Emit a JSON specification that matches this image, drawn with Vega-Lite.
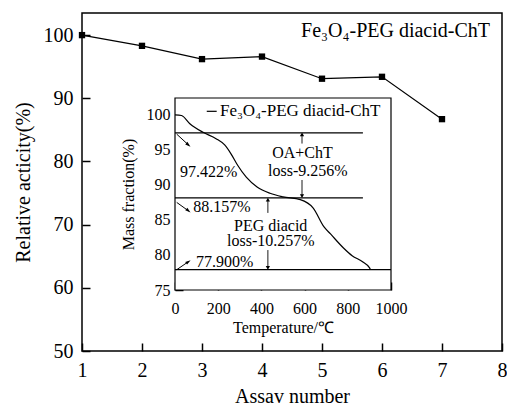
{
  "$schema": "https://vega.github.io/schema/vega-lite/v6.json",
  "width": 420,
  "height": 338,
  "autosize": "none",
  "padding": {"left": 82, "top": 13, "right": 5, "bottom": 55},
  "background": "white",
  "config": {
    "view": {"stroke": "black", "strokeWidth": 1.5},
    "font": "Liberation Serif",
    "axis": {
      "grid": false,
      "domain": false,
      "tickColor": "black",
      "tickWidth": 1.5,
      "labelColor": "black",
      "titleColor": "black",
      "labelFont": "Liberation Serif",
      "titleFont": "Liberation Serif",
      "titleFontWeight": "normal"
    },
    "text": {"font": "Liberation Serif", "color": "black"}
  },
  "datasets": {
    "activity": [
      {"assay": 1, "activity": 100},
      {"assay": 2, "activity": 98.3},
      {"assay": 3, "activity": 96.2},
      {"assay": 4, "activity": 96.6},
      {"assay": 5, "activity": 93.1},
      {"assay": 6, "activity": 93.4},
      {"assay": 7, "activity": 86.7}
    ],
    "mainLabel": [
      {"assay": 7.8, "activity": 100.6, "label": "Fe₃O₄-PEG diacid-ChT"}
    ],
    "frame": [
      {"temp": 0, "temp2": 1000, "mass": 75, "mass2": 102.4}
    ],
    "tga": [
      {"temp": 0, "mass": 100},
      {"temp": 30, "mass": 99.9},
      {"temp": 70, "mass": 98.7},
      {"temp": 130, "mass": 97.5},
      {"temp": 190, "mass": 96.6},
      {"temp": 230, "mass": 95.7},
      {"temp": 260, "mass": 94.4},
      {"temp": 290, "mass": 92.8},
      {"temp": 330, "mass": 91.1},
      {"temp": 380, "mass": 89.7},
      {"temp": 440, "mass": 88.8},
      {"temp": 500, "mass": 88.3},
      {"temp": 580, "mass": 87.9},
      {"temp": 640, "mass": 86.7},
      {"temp": 690, "mass": 84.0},
      {"temp": 720, "mass": 83.0},
      {"temp": 780, "mass": 81.0},
      {"temp": 820, "mass": 79.9},
      {"temp": 870, "mass": 79.0},
      {"temp": 900, "mass": 78.2},
      {"temp": 905, "mass": 77.9}
    ],
    "levels": [
      {"temp": 0, "temp2": 870, "mass": 97.422},
      {"temp": 0, "temp2": 870, "mass": 88.157},
      {"temp": 0, "temp2": 1000, "mass": 77.9}
    ],
    "vArrows": [
      {"temp": 588, "mass": 95.9, "mass2": 97.2, "dir": "up"},
      {"temp": 588, "mass": 90.7, "mass2": 88.4, "dir": "down"},
      {"temp": 430, "mass": 86.0, "mass2": 87.9, "dir": "up"},
      {"temp": 430, "mass": 80.7, "mass2": 78.15, "dir": "down"}
    ],
    "dArrows": [
      {"temp": 8, "mass": 97.24, "temp2": 62, "mass2": 95.71, "dir": "dr"},
      {"temp": 8, "mass": 87.5, "temp2": 62, "mass2": 86.3, "dir": "dr"},
      {"temp": 8, "mass": 77.9, "temp2": 62, "mass2": 79.04, "dir": "ur"}
    ],
    "notesLeft": [
      {"temp": 23, "mass": 91.9, "label": "97.422%"},
      {"temp": 85, "mass": 86.8, "label": "88.157%"},
      {"temp": 97, "mass": 79.05, "label": "77.900%"}
    ],
    "notesCenter": [
      {"temp": 590, "mass": 94.5, "label": "OA+ChT"},
      {"temp": 615, "mass": 92.0, "label": "loss-9.256%"},
      {"temp": 443, "mass": 84.2, "label": "PEG diacid"},
      {"temp": 444, "mass": 82.0, "label": "loss-10.257%"}
    ],
    "legendLine": [
      {"temp": 147, "temp2": 193, "mass": 100.5}
    ],
    "legendText": [
      {"temp": 208, "mass": 100.5, "label": "Fe₃O₄-PEG diacid-ChT"}
    ]
  },
  "layer": [
    {
      "encoding": {
        "x": {
          "field": "assay",
          "type": "quantitative",
          "scale": {"domain": [1, 8], "nice": false, "zero": false},
          "axis": {
            "orient": "bottom",
            "values": [1, 2, 3, 4, 5, 6, 7, 8],
            "tickSize": -8,
            "labelPadding": 17,
            "labelFontSize": 20,
            "labelFlush": false,
            "title": "Assav number",
            "titleFontSize": 20,
            "titlePadding": 6
          }
        },
        "y": {
          "field": "activity",
          "type": "quantitative",
          "scale": {"domain": [50, 103.5], "nice": false, "zero": false},
          "axis": {
            "orient": "left",
            "values": [50, 60, 70, 80, 90, 100],
            "tickSize": -8,
            "labelPadding": 17,
            "labelFontSize": 20,
            "labelFlush": false,
            "title": "Relative acticity(%)",
            "titleFontSize": 20,
            "titlePadding": 10
          }
        }
      },
      "layer": [
        {
          "data": {"name": "activity"},
          "mark": {"type": "line", "color": "black", "strokeWidth": 1.2}
        },
        {
          "data": {"name": "activity"},
          "mark": {"type": "point", "shape": "square", "filled": true, "color": "black", "opacity": 1, "size": 40}
        },
        {
          "data": {"name": "mainLabel"},
          "mark": {"type": "text", "align": "right", "baseline": "middle", "fontSize": 20},
          "encoding": {"text": {"field": "label"}}
        }
      ]
    },
    {
      "layer": [
        {
          "data": {"name": "frame"},
          "mark": {"type": "rect", "fill": "white", "stroke": "black", "strokeWidth": 1.2},
          "encoding": {
            "x": {
              "field": "temp",
              "type": "quantitative",
              "scale": {"domain": [0, 1000], "range": [93, 309], "nice": false, "zero": false},
              "axis": {
                "orient": "bottom",
                "offset": -61,
                "values": [0, 200, 400, 600, 800, 1000],
                "format": "d",
                "tickSize": -8,
                "labelPadding": 18,
                "labelFontSize": 16,
                "labelFlush": false,
                "title": "Temperature/℃",
                "titleFontSize": 16,
                "titlePadding": 3
              }
            },
            "x2": {"field": "temp2"},
            "y": {
              "field": "mass",
              "type": "quantitative",
              "scale": {"domain": [75, 102.4], "range": [277, 85], "nice": false, "zero": false},
              "axis": {
                "orient": "left",
                "offset": -93,
                "values": [75, 80, 85, 90, 95, 100],
                "tickSize": -8,
                "labelPadding": 13,
                "labelFontSize": 16,
                "labelFlush": false,
                "title": "Mass fraction(%)",
                "titleFontSize": 16,
                "titlePadding": 10
              }
            },
            "y2": {"field": "mass2"}
          }
        },
        {
          "data": {"name": "levels"},
          "mark": {"type": "rule", "color": "black", "strokeWidth": 1.2},
          "encoding": {
            "x": {"field": "temp", "type": "quantitative"},
            "x2": {"field": "temp2"},
            "y": {"field": "mass", "type": "quantitative"}
          }
        },
        {
          "data": {"name": "tga"},
          "mark": {"type": "line", "color": "black", "strokeWidth": 1.2, "interpolate": "monotone"},
          "encoding": {
            "x": {"field": "temp", "type": "quantitative"},
            "y": {"field": "mass", "type": "quantitative"}
          }
        },
        {
          "data": {"name": "vArrows"},
          "mark": {"type": "rule", "color": "black", "strokeWidth": 0.9},
          "encoding": {
            "x": {"field": "temp", "type": "quantitative"},
            "y": {"field": "mass", "type": "quantitative"},
            "y2": {"field": "mass2"}
          }
        },
        {
          "data": {"name": "vArrows"},
          "mark": {"type": "point", "filled": true, "color": "black", "opacity": 1, "size": 18},
          "encoding": {
            "x": {"field": "temp", "type": "quantitative"},
            "y": {"field": "mass2", "type": "quantitative"},
            "shape": {
              "field": "dir",
              "type": "nominal",
              "scale": {"domain": ["up", "down", "dr", "ur"], "range": ["triangle-up", "triangle-down", "M0.77,0.64L-0.38,-1.1L-1.15,-0.18Z", "M0.82,-0.57L-1.16,0.08L-0.48,1.07Z"]},
              "legend": null
            }
          }
        },
        {
          "data": {"name": "dArrows"},
          "mark": {"type": "rule", "color": "black", "strokeWidth": 1},
          "encoding": {
            "x": {"field": "temp", "type": "quantitative"},
            "x2": {"field": "temp2"},
            "y": {"field": "mass", "type": "quantitative"},
            "y2": {"field": "mass2"}
          }
        },
        {
          "data": {"name": "dArrows"},
          "mark": {"type": "point", "filled": true, "color": "black", "opacity": 1, "size": 30},
          "encoding": {
            "x": {"field": "temp2", "type": "quantitative"},
            "y": {"field": "mass2", "type": "quantitative"},
            "shape": {"field": "dir", "type": "nominal", "legend": null}
          }
        },
        {
          "data": {"name": "notesLeft"},
          "mark": {"type": "text", "align": "left", "baseline": "middle", "fontSize": 16},
          "encoding": {
            "x": {"field": "temp", "type": "quantitative"},
            "y": {"field": "mass", "type": "quantitative"},
            "text": {"field": "label"}
          }
        },
        {
          "data": {"name": "notesCenter"},
          "mark": {"type": "text", "align": "center", "baseline": "middle", "fontSize": 16},
          "encoding": {
            "x": {"field": "temp", "type": "quantitative"},
            "y": {"field": "mass", "type": "quantitative"},
            "text": {"field": "label"}
          }
        },
        {
          "data": {"name": "legendLine"},
          "mark": {"type": "rule", "color": "black", "strokeWidth": 1.2},
          "encoding": {
            "x": {"field": "temp", "type": "quantitative"},
            "x2": {"field": "temp2"},
            "y": {"field": "mass", "type": "quantitative"}
          }
        },
        {
          "data": {"name": "legendText"},
          "mark": {"type": "text", "align": "left", "baseline": "middle", "fontSize": 17},
          "encoding": {
            "x": {"field": "temp", "type": "quantitative"},
            "y": {"field": "mass", "type": "quantitative"},
            "text": {"field": "label"}
          }
        }
      ]
    }
  ],
  "resolve": {
    "scale": {"x": "independent", "y": "independent"},
    "axis": {"x": "independent", "y": "independent"}
  }
}
